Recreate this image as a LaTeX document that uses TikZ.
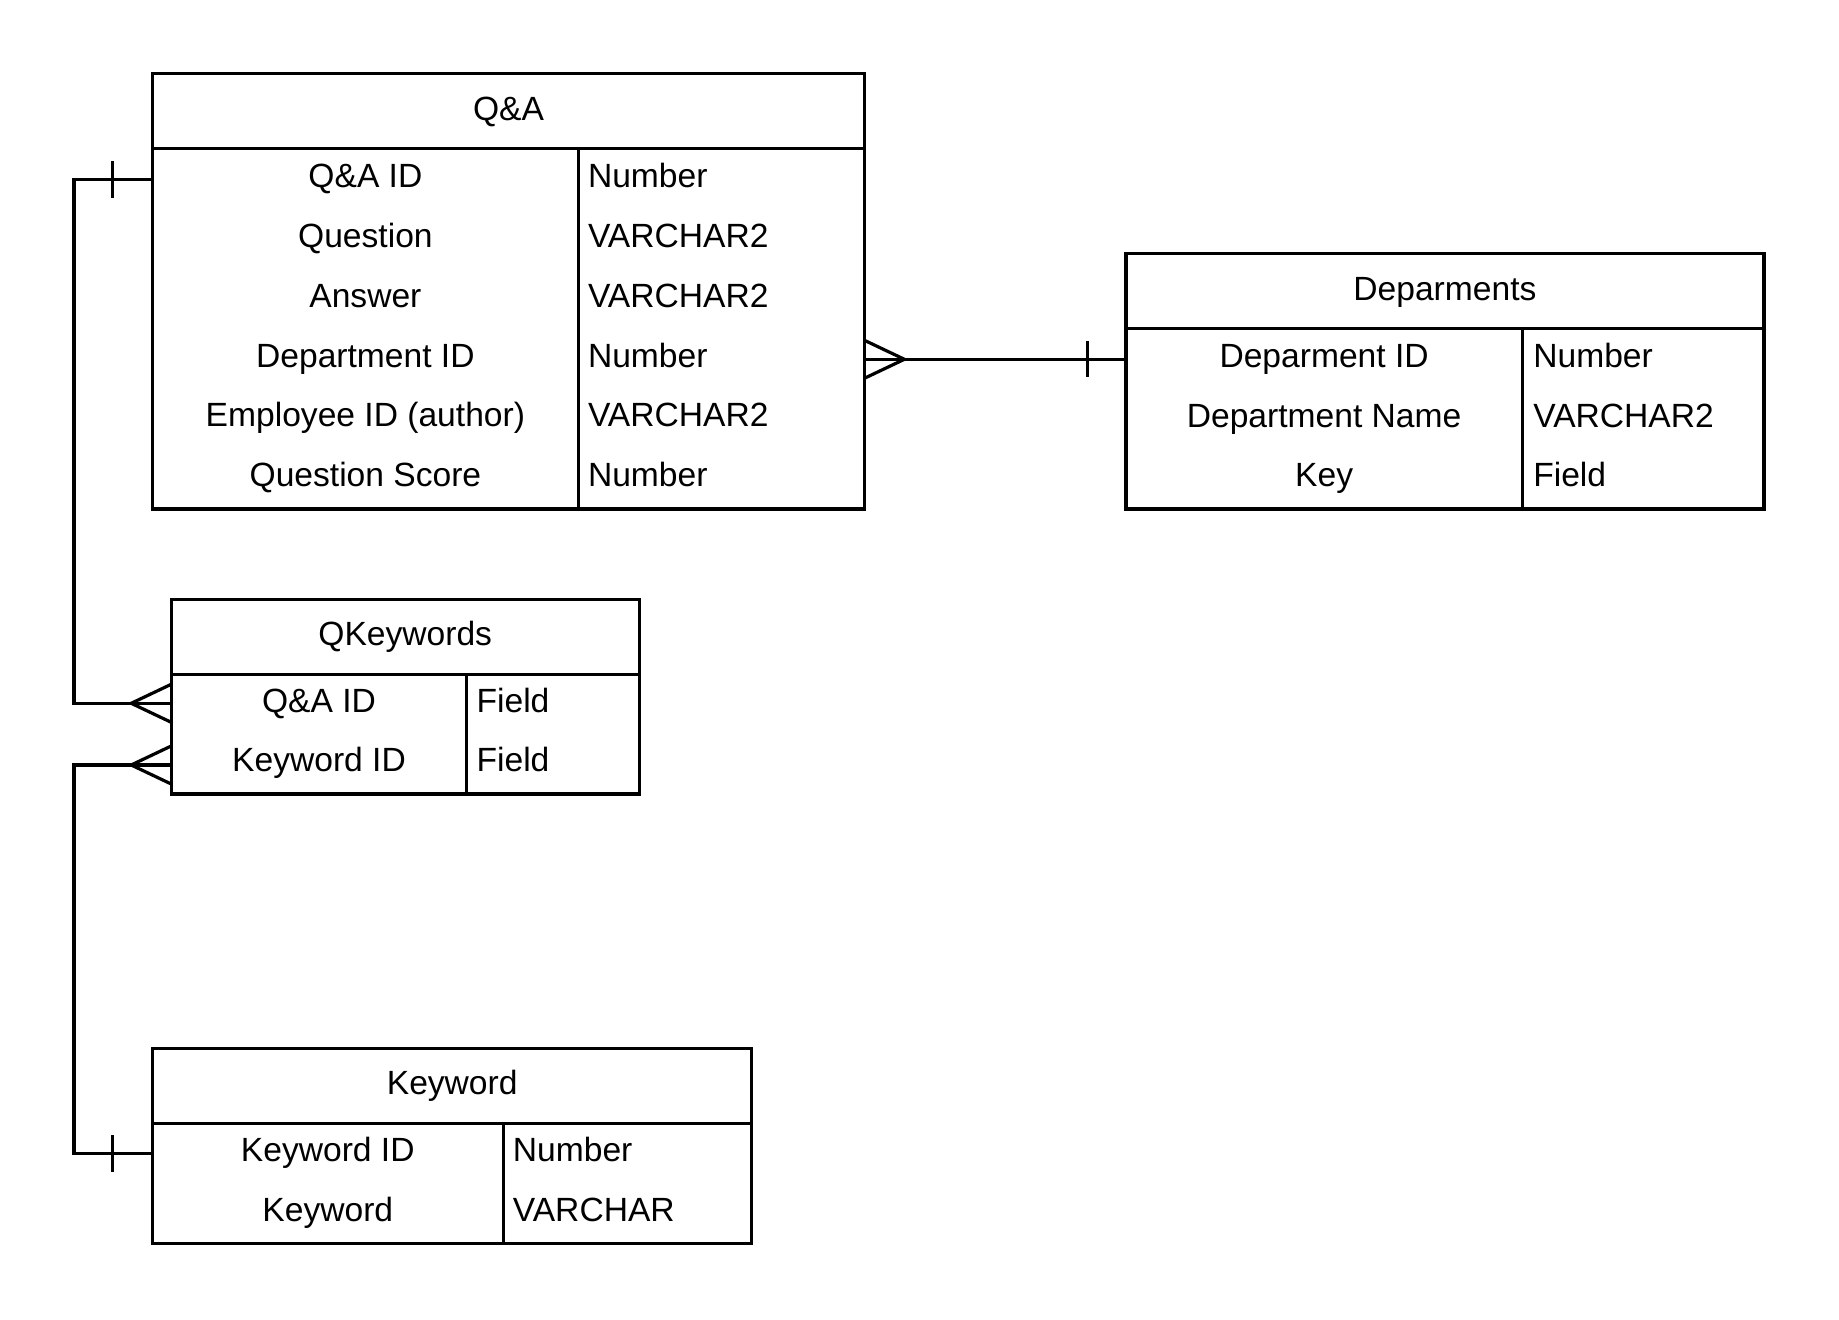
\documentclass[tikz,border=0pt]{standalone}
\usepackage{fontspec}
\setmainfont{Liberation Sans}
\newcommand{\erfont}{\fontsize{16.8}{20}\selectfont}
\tikzset{
  tbl/.style={line width=1.6pt},
  lnk/.style={line width=1.6pt},
  cell/.style={anchor=base, inner sep=0pt, font=\erfont},
  typ/.style={anchor=base west, inner sep=0pt, font=\erfont}
}
\begin{document}
\begin{tikzpicture}[x=0.5pt, y=-0.5pt]
        \useasboundingbox (0,0) rectangle (1839,1320);

        % Tabella Q&A
        \draw[tbl] (152.5,73.9) rectangle (864.4,509.0);
        \draw[tbl] (152.5,148.9) -- (864.4,148.9);
        \draw[tbl] (578.2,148.9) -- (578.2,509.0);
        \node[cell] (qa) at (508.5,121.0) {Q\&A};
        \node[cell] (qaid) at (365.4,187.8) {Q\&A ID};
        \node[cell] (qaq) at (365.4,247.6) {Question};
        \node[cell] (qaa) at (365.4,307.4) {Answer};
        \node[cell] (qadep) at (365.4,367.2) {Department ID};
        \node[cell] (qaemp) at (365.4,427.0) {Employee ID (author)};
        \node[cell] (qascore) at (365.4,486.8) {Question Score};
        \node[typ] (qaidt) at (587.6,187.8) {Number};
        \node[typ] (qaqt) at (587.6,247.6) {VARCHAR2};
        \node[typ] (qaat) at (587.6,307.4) {VARCHAR2};
        \node[typ] (qadept) at (587.6,367.2) {Number};
        \node[typ] (qaempt) at (587.6,427.0) {VARCHAR2};
        \node[typ] (qascoret) at (587.6,486.8) {Number};

        % Tabella Deparments
        \draw[tbl] (1125.9,253.3) rectangle (1763.9,509.0);
        \draw[tbl] (1125.9,328.4) -- (1763.9,328.4);
        \draw[tbl] (1522.3,328.4) -- (1522.3,509.0);
        \node[cell] (dep) at (1444.9,300.4) {Deparments};
        \node[cell] (depid) at (1324.1,367.3) {Deparment ID};
        \node[cell] (depname) at (1324.1,427.1) {Department Name};
        \node[cell] (depkey) at (1324.1,486.9) {Key};
        \node[typ] (depidt) at (1532.9,367.3) {Number};
        \node[typ] (depnamet) at (1532.9,427.1) {VARCHAR2};
        \node[typ] (depkeyt) at (1532.9,486.9) {Field};

        % Tabella QKeywords
        \draw[tbl] (171.2,599.3) rectangle (639.2,794.0);
        \draw[tbl] (171.2,674.4) -- (639.2,674.4);
        \draw[tbl] (466.8,674.4) -- (466.8,794.0);
        \node[cell] (qk) at (405.2,645.2) {QKeywords};
        \node[cell] (qkqa) at (319.0,712.1) {Q\&A ID};
        \node[cell] (qkkw) at (319.0,771.9) {Keyword ID};
        \node[typ] (qkqat) at (476.2,712.1) {Field};
        \node[typ] (qkkwt) at (476.2,771.9) {Field};

        % Tabella Keyword
        \draw[tbl] (152.5,1048.5) rectangle (751.8,1243.2);
        \draw[tbl] (152.5,1123.5) -- (751.8,1123.5);
        \draw[tbl] (503.1,1123.5) -- (503.1,1243.2);
        \node[cell] (kw) at (452.2,1094.4) {Keyword};
        \node[cell] (kwid) at (327.8,1161.3) {Keyword ID};
        \node[cell] (kwname) at (327.8,1221.1) {Keyword};
        \node[typ] (kwidt) at (512.5,1161.3) {Number};
        \node[typ] (kwnamet) at (512.5,1221.1) {VARCHAR};

        % Punti di attacco
        \coordinate (qaL) at (152.5,179.4);
        \coordinate (qaR) at (864.4,359.3);
        \coordinate (depL) at (1125.9,359.3);
        \coordinate (qkA) at (171.2,703.3);
        \coordinate (qkB) at (171.2,765.0);
        \coordinate (kwL) at (152.5,1153.3);

        % Relazioni
        \draw[lnk] (qaL) -- ++(-78.6,0) |- (qkA);
        \draw[lnk] (kwL) -- ++(-78.6,0) |- (qkB);
        \draw[lnk] (qaR) -- (depL);

        % Uno (barra)
        \draw[lnk] ([shift={(-39.8,-18.5)}]qaL) -- ++(0,37);
        \draw[lnk] ([shift={(-39.8,-18.5)}]kwL) -- ++(0,37);
        \draw[lnk] ([shift={(-38.2,-18)}]depL) -- ++(0,36);

        % Molti (zampa di gallina)
        \draw[lnk] ([shift={(0,-19)}]qkA) -- ++(-40,19) -- ++(40,19);
        \draw[lnk] ([shift={(0,-19)}]qkB) -- ++(-40,19) -- ++(40,19);
        \draw[lnk] ([shift={(0,-19)}]qaR) -- ++(40,19) -- ++(-40,19);
    \end{tikzpicture}
\end{document}
